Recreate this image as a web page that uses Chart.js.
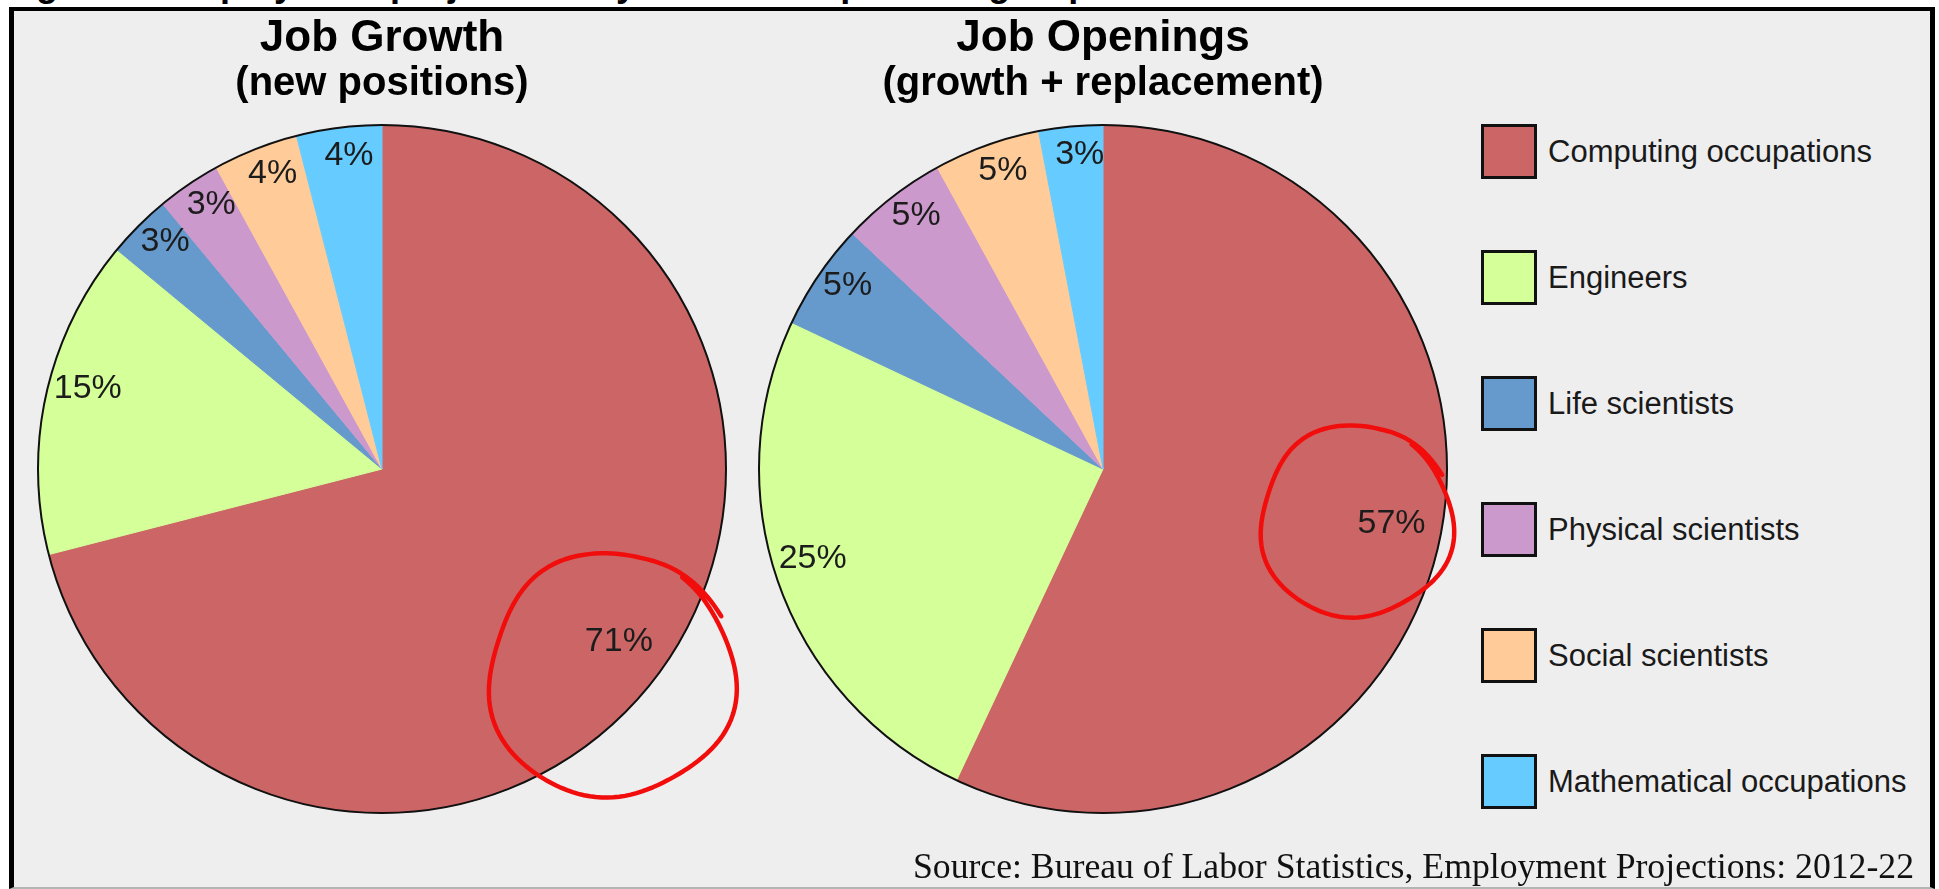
<!DOCTYPE html>
<html>
<head>
<meta charset="utf-8">
<script src="https://cdn.jsdelivr.net/npm/chart.js@4.4.1/dist/chart.umd.min.js"></script>
<style>
  html, body { margin:0; padding:0; width:1939px; height:889px; overflow:hidden; background:#ffffff; position:relative; font-family:"Liberation Sans", Arial, sans-serif; }
  #topcap { position:absolute; left:0; top:0; width:1939px; height:6px; overflow:hidden; }
  #topcap span { position:absolute; left:4px; top:-37px; font:bold 36px "Liberation Sans", Arial, sans-serif; line-height:41px; color:#000; white-space:nowrap; }
  #frame { position:absolute; left:9px; top:7px; width:1916px; height:876px; border-left:5px solid #000; border-right:5px solid #000; border-top:4px solid #000; border-bottom:2px solid #b4b4b4; background:#eeeeee; }
  canvas { position:absolute; top:0; }
  #c1 { left:0px; }
  #c2 { left:744px; }
  #legend { position:absolute; left:1481px; top:124px; margin:0; padding:0; list-style:none; }
  #legend li { position:relative; height:55px; margin:0 0 71px 0; display:flex; align-items:center; }
  #legend .box { width:56px; height:55px; box-sizing:border-box; border:3px solid #111; flex:none; }
  #legend .txt { margin-left:11px; font:31px "Liberation Sans", Arial, sans-serif; color:#1a1a1a; line-height:55px; white-space:nowrap; }
  #source { position:absolute; right:25px; top:849px; font:35.7px "Liberation Serif", "Times New Roman", serif; line-height:35px; color:#111; white-space:nowrap; }
</style>
</head>
<body>
<div id="topcap"><span>Figure 1. Employment projections by STEM occupational group</span></div>
<div id="frame"></div>
<canvas id="c1" width="764" height="889"></canvas>
<canvas id="c2" width="718" height="889"></canvas>
<ul id="legend"></ul>
<div id="source"></div>
<script>
// ---------- data ----------
const categories = ['Computing occupations', 'Engineers', 'Life scientists', 'Physical scientists', 'Social scientists', 'Mathematical occupations'];
const growthValues = [71, 15, 3, 3, 4, 4];
const openingsValues = [57, 25, 5, 5, 5, 3];
const chartTitles = ['Job Growth', 'Job Openings'];
const chartSubtitles = ['(new positions)', '(growth + replacement)'];
const sourceNote = 'Source: Bureau of Labor Statistics, Employment Projections: 2012-22';

// ---------- styles ----------
const sliceColors = ['#cc6666', '#d4ff99', '#6699cc', '#cc99cc', '#ffcc99', '#66ccff'];
const FONT = '"Liberation Sans", Arial, sans-serif';

// legend + source as real text
const legendEl = document.getElementById('legend');
categories.forEach((c, i) => {
  const li = document.createElement('li');
  const b = document.createElement('span'); b.className = 'box'; b.style.background = sliceColors[i];
  const t = document.createElement('span'); t.className = 'txt'; t.textContent = c;
  li.appendChild(b); li.appendChild(t); legendEl.appendChild(li);
});
document.getElementById('source').textContent = sourceNote;

// percentage labels + black outer outline
const pctLabels = {
  id: 'pctLabels',
  afterDatasetsDraw(chart) {
    const ctx = chart.ctx;
    const meta = chart.getDatasetMeta(0);
    const vals = chart.data.datasets[0].data;
    ctx.save();
    const c0 = meta.data[0].getProps(['x', 'y', 'outerRadius'], true);
    ctx.beginPath();
    ctx.arc(c0.x, c0.y, c0.outerRadius, 0, Math.PI * 2);
    ctx.lineWidth = 2;
    ctx.strokeStyle = '#111';
    ctx.stroke();
    ctx.font = '34px ' + FONT;
    ctx.fillStyle = '#1c1c1c';
    ctx.textAlign = 'center';
    ctx.textBaseline = 'middle';
    meta.data.forEach((arc, i) => {
      const p = arc.getProps(['x', 'y', 'startAngle', 'endAngle', 'outerRadius'], true);
      const v = vals[i];
      const mid = (p.startAngle + p.endAngle) / 2 + (v >= 50 ? -0.025 : (v >= 10 ? 0.04 : 0.02));
      const f = v >= 50 ? 0.855 : (v >= 10 ? 0.885 : 0.91);
      ctx.fillText(v + '%', p.x + Math.cos(mid) * p.outerRadius * f, p.y + Math.sin(mid) * p.outerRadius * f - 2);
    });
    ctx.restore();
  }
};

// hand-drawn red annotation circle
const handCircle = {
  id: 'handCircle',
  afterDraw(chart, args, opts) {
    if (!opts || !opts.rx) return;
    const meta = chart.getDatasetMeta(0);
    const c = meta.data[0].getProps(['x', 'y'], true);
    const cx = c.x + opts.dx, cy = c.y + opts.dy;
    const ctx = chart.ctx;
    ctx.save();
    ctx.strokeStyle = '#f20d0d';
    ctx.lineWidth = 4.5;
    ctx.lineCap = 'round';
    ctx.lineJoin = 'round';
    ctx.beginPath();
    const start = -0.95;
    const total = Math.PI * 2 + 0.45;
    const n = 140;
    for (let k = 0; k <= n; k++) {
      const t = start + total * k / n;
      const wob = 1 + 0.025 * Math.sin(3 * t + 0.7) + 0.015 * Math.sin(5 * t);
      const drift = 1 + 0.05 * Math.max(0, (k / n - 0.88) / 0.12);
      const x = cx + Math.cos(t) * opts.rx * wob * drift;
      const y = cy + Math.sin(t) * opts.ry * wob * drift;
      if (k === 0) ctx.moveTo(x, y); else ctx.lineTo(x, y);
    }
    ctx.stroke();
    ctx.restore();
  }
};

function makeChart(id, values, title, subtitle, circle) {
  return new Chart(document.getElementById(id), {
    type: 'pie',
    data: {
      labels: categories,
      datasets: [{
        data: values,
        backgroundColor: sliceColors,
        borderColor: sliceColors,
        borderWidth: 1,
        radius: 344
      }]
    },
    options: {
      responsive: false,
      animation: false,
      layout: { padding: { top: 0, bottom: 55, left: 0, right: 0 } },
      plugins: {
        legend: { display: false },
        tooltip: { enabled: false },
        title: {
          display: true, text: title, color: '#000',
          font: { family: FONT, size: 44, weight: 'bold', lineHeight: 1 },
          padding: { top: 17, bottom: 0 }
        },
        subtitle: {
          display: true, text: subtitle, color: '#000',
          font: { family: FONT, size: 40, weight: 'bold', lineHeight: 1 },
          padding: { top: 3, bottom: 0 }
        },
        handCircle: circle
      }
    },
    plugins: [pctLabels, handCircle]
  });
}

makeChart('c1', growthValues, chartTitles[0], chartSubtitles[0], { dx: 229, dy: 207, rx: 123, ry: 122 });
makeChart('c2', openingsValues, chartTitles[1], chartSubtitles[1], { dx: 253, dy: 53, rx: 96, ry: 96 });
</script>
</body>
</html>
